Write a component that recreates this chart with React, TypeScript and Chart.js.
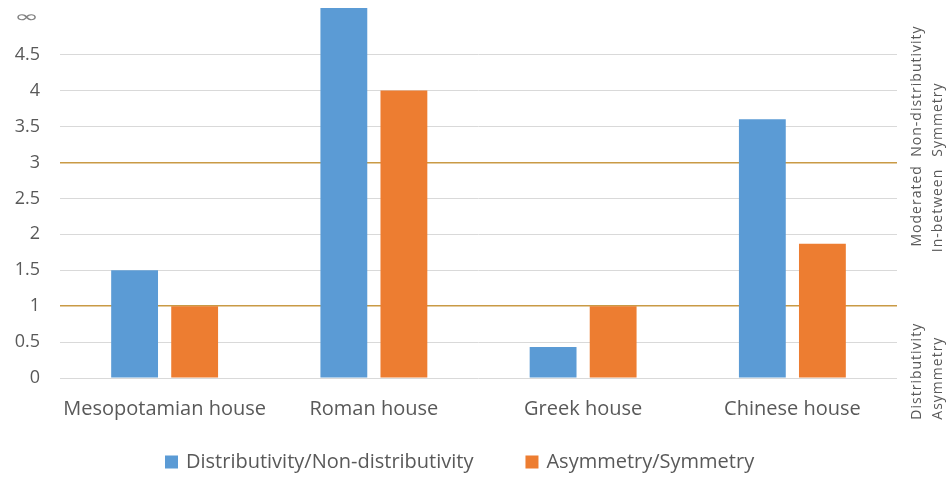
import React, { useEffect, useRef } from "react";
import { Chart, registerables } from "chart.js";

Chart.register(...registerables);

const categories = ["Mesopotamian house", "Roman house", "Greek house", "Chinese house"];
const distributivity = [1.5, 5.15, 0.43, 3.6];
const asymmetry = [1.0, 4.0, 1.0, 1.87];
const seriesNames = ["Distributivity/Non-distributivity", "Asymmetry/Symmetry"];
const seriesColors = ["#5b9bd5", "#ed7d31"];
const thresholdLines = [1, 3];
const tickValues = [0, 0.5, 1, 1.5, 2, 2.5, 3, 3.5, 4, 4.5];
const infinityValue = 5;
const axisMax = 5.15;
// zone labels: two rotated lines each, anchored where the text starts (bottom end)
const zoneLabels = [
  { lines: ["Distributivity", "Asymmetry"], starts: [-0.58, -0.58] },
  { lines: ["Moderated", "In-between"], starts: [1.83, 1.75] },
  { lines: ["Non-distributivity", "Symmetry"], starts: [3.08, 3.08] },
];

const FONT = "'Open Sans', sans-serif";
const GREY = "#595959";

const decorPlugin = {
  id: "decor",
  afterDraw(chart: any) {
    const { ctx, chartArea, scales } = chart;
    const y = scales.y;
    ctx.save();
    // infinity label on the y axis (wide, flat glyph)
    ctx.fillStyle = "#808080";
    ctx.font = "20px 'DejaVu Sans', sans-serif";
    ctx.textAlign = "right";
    ctx.textBaseline = "middle";
    ctx.save();
    ctx.translate(39, y.getPixelForValue(infinityValue) - 1);
    ctx.scale(1.5, 0.8);
    ctx.fillText("∞", 0, 0);
    ctx.restore();

    // rotated zone labels on the right
    ctx.fillStyle = GREY;
    ctx.font = `14px ${FONT}`;
    (ctx as any).letterSpacing = "1px";
    ctx.textAlign = "left";
    ctx.textBaseline = "middle";
    zoneLabels.forEach((z) => {
      z.lines.forEach((line, i) => {
        const px = chartArea.right + 20 + i * 21;
        const py = y.getPixelForValue(z.starts[i]);
        ctx.save();
        ctx.translate(px, py);
        ctx.rotate(-Math.PI / 2);
        ctx.fillText(line, 0, 0);
        ctx.restore();
      });
    });
    (ctx as any).letterSpacing = "0px";

    // custom legend
    ctx.font = `20px ${FONT}`;
    ctx.textBaseline = "middle";
    ctx.textAlign = "left";
    const ly = chart.height - 15;
    let lx = chartArea.left + 105;
    const box = 13;
    chart.data.datasets.forEach((ds: any) => {
      ctx.fillStyle = ds.backgroundColor;
      ctx.fillRect(lx, ly - box / 2, box, box);
      lx += box + 8;
      ctx.fillStyle = GREY;
      ctx.fillText(ds.label, lx, ly);
      lx += ctx.measureText(ds.label).width + 52;
    });
    ctx.restore();
  },
};

export default function App() {
  const ref = useRef<HTMLCanvasElement>(null);
  useEffect(() => {
    document.body.style.margin = "0";
    const chart = new Chart(ref.current!, {
      type: "bar",
      data: {
        labels: categories,
        datasets: [
          {
            label: seriesNames[0],
            data: distributivity,
            backgroundColor: seriesColors[0],
            barPercentage: 0.78,
            categoryPercentage: 0.574,
          },
          {
            label: seriesNames[1],
            data: asymmetry,
            backgroundColor: seriesColors[1],
            barPercentage: 0.78,
            categoryPercentage: 0.574,
          },
        ],
      },
      options: {
        animation: false,
        responsive: true,
        maintainAspectRatio: false,
        layout: { padding: { top: 8, right: 54, left: 0, bottom: 49 } },
        plugins: {
          tooltip: { enabled: false },
          legend: { display: false },
        },
        scales: {
          x: {
            grid: { display: false, drawTicks: false },
            border: { display: false },
            afterFit: (s: any) => {
              s.height = 50;
            },
            ticks: { color: GREY, font: { family: FONT, size: 20 }, padding: 19 },
          },
          y: {
            min: 0,
            max: axisMax,
            border: { display: false },
            afterFit: (s: any) => {
              s.width = 60;
            },
            afterBuildTicks: (s: any) => {
              s.ticks = tickValues.map((v) => ({ value: v }));
            },
            ticks: {
              color: GREY,
              font: { family: FONT, size: 18, lineHeight: 0.8 },
              padding: 0,
              callback: (v: any) => String(v),
            },
            grid: {
              drawTicks: true,
              tickLength: 20,
              tickColor: "rgba(0,0,0,0)",
              color: (c: any) => {
                const v = c.tick ? c.tick.value : null;
                if (thresholdLines.includes(v)) return "#c99a45";
                return "#d9d9d9";
              },
              lineWidth: (c: any) => {
                const v = c.tick ? c.tick.value : null;
                return thresholdLines.includes(v) ? 1.5 : 1;
              },
            },
          },
        },
      },
      plugins: [decorPlugin],
    });
    return () => chart.destroy();
  }, []);
  return (
    <div style={{ width: 951, height: 477, position: "relative", background: "#fff" }}>
      <canvas ref={ref} />
    </div>
  );
}
